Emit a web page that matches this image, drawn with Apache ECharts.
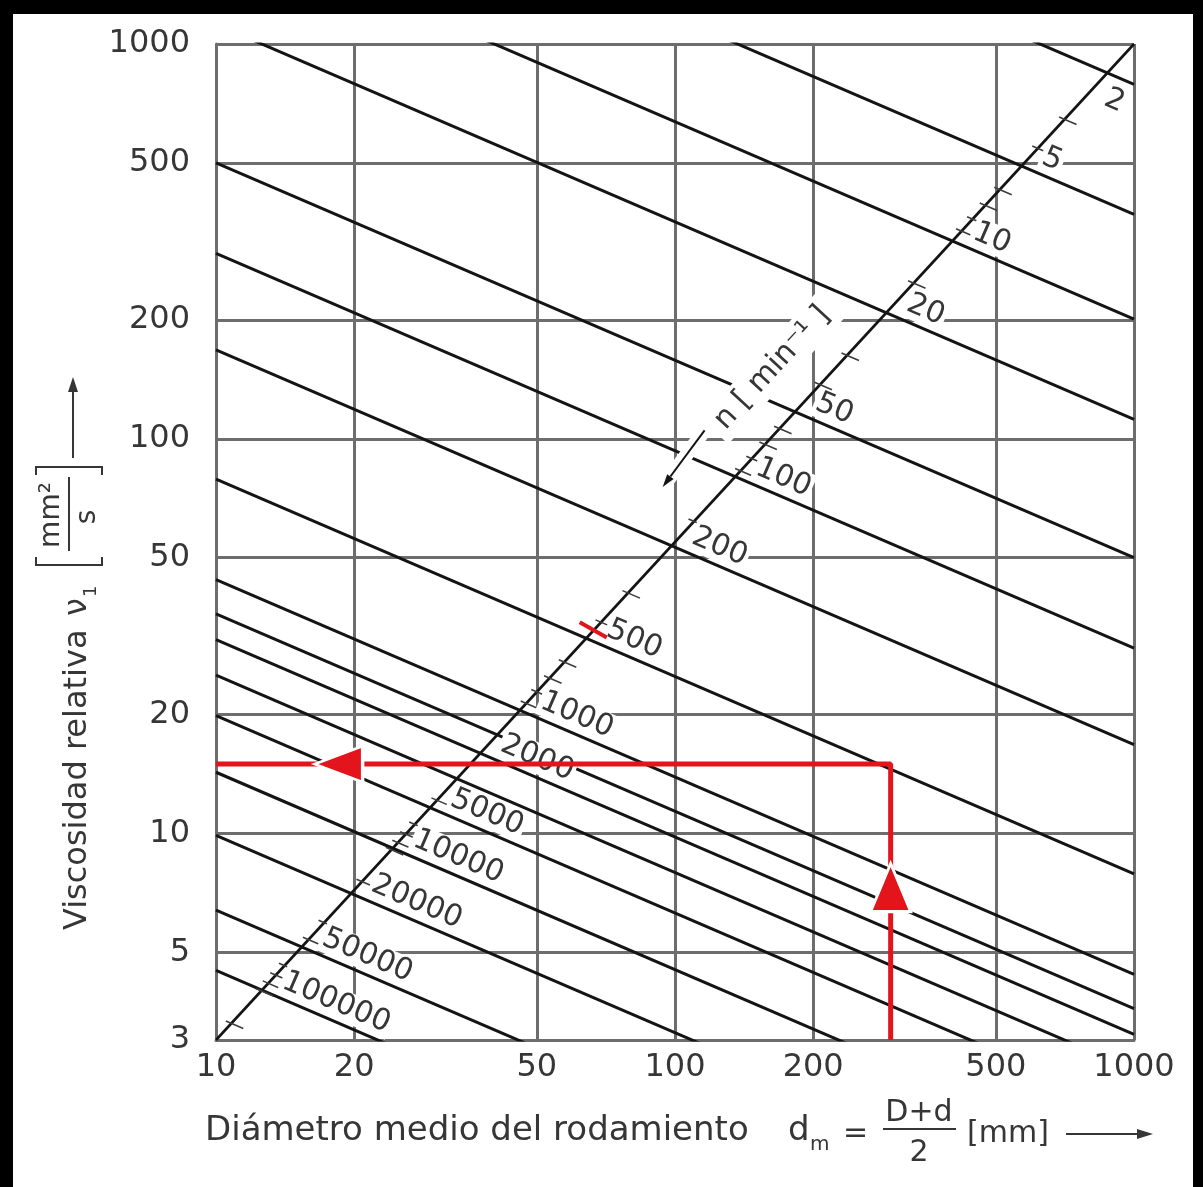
<!DOCTYPE html>
<html>
<head>
<meta charset="utf-8">
<script src="https://cdn.jsdelivr.net/npm/echarts@6.0.0/dist/echarts.min.js"></script>
<style>
  html, body { margin: 0; padding: 0; background: #fff; }
  #chart { width: 1203px; height: 1187px; }
</style>
</head>
<body>
<div id="chart"></div>
<script>
// operating speed n [min^-1] of each line of the nomogram
var speeds = [2, 5, 10, 20, 50, 100, 200, 500, 1000, 1500, 2000, 3000, 5000, 10000, 20000, 50000, 100000];
// speeds that carry a printed label on the n scale
var labelledSpeeds = [2, 5, 10, 20, 50, 100, 200, 500, 1000, 2000, 5000, 10000, 20000, 50000, 100000];
// nu1 [mm2/s] read where each line meets dm = 10 mm and dm = 1000 mm (extended past the frame)
var nuAt10 = [7900, 3700, 2010, 1122, 500, 295, 168, 79, 44, 36, 31, 25.2, 19.9, 14.3, 9.9, 6.4, 4.5];
var nuAt1000 = [790, 370, 201, 112, 50, 29.5, 16.8, 7.9, 4.4, 3.6, 3.1, 2.52, 1.99, 1.43, 0.99, 0.64, 0.45];
// minor ticks of the n scale, given as dm [mm] where they sit on the scale line
var scaleTicks = [706, 617, 510, 474, 445, 421, 331, 237, 207, 169, 157, 147, 139, 110, 79, 69,
                  57.4, 53.3, 50, 47.4, 30.3, 27.1, 25.9, 24.9, 24.1, 20.8, 17.2, 15.9,
                  14.1, 13.5, 13.0, 12.55, 10.8];
var xTicks = [10, 20, 50, 100, 200, 500, 1000];
var yTicks = [3, 5, 10, 20, 50, 100, 200, 500, 1000];
// worked example in red
var exampleDm = 295;
var exampleNu = 15;
var exampleMark = [[62, 34.3], [71, 31.4]];
var arrowLeftDm = 18.5;
var arrowUpNu = 7.3;

var gridColor = '#6d6d6d';
var lineColor = '#141414';
var textColor = '#363636';
var red = '#e3141b';
var FONT = '"DejaVu Sans", sans-serif';

var chart = echarts.init(document.getElementById('chart'));

// the n scale runs straight from (10, 3) to (1000, 1000)
var diagK = Math.log(1000 / 3) / Math.log(100);
function diagNu(dm) {
    return 3 * Math.pow(dm / 10, diagK);
}
function crossing(i) {
    var s = Math.log(nuAt10[i] / nuAt1000[i]) / Math.log(100);
    var dm = 10 * Math.pow(nuAt10[i] / 3, 1 / (diagK + s));
    return [dm, diagNu(dm)];
}
function lineDir(api, dm, nu) {
    var p = api.coord([dm, nu]);
    var q = api.coord([dm * 2, nu / Math.SQRT2]);
    var len = Math.hypot(q[0] - p[0], q[1] - p[1]);
    return { p: p, ux: (q[0] - p[0]) / len, uy: (q[1] - p[1]) / len };
}

function renderScaleTick(params, api) {
    var d = lineDir(api, api.value(0), api.value(1));
    return {
        type: 'line',
        shape: {
            x1: d.p[0] - 6 * d.ux, y1: d.p[1] - 6 * d.uy,
            x2: d.p[0] + 13 * d.ux, y2: d.p[1] + 13 * d.uy
        },
        style: { stroke: '#3c3c3c', lineWidth: 1.6 }
    };
}

function renderSpeedLabel(params, api) {
    var d = lineDir(api, api.value(0), api.value(1));
    var n = api.value(2);
    var below = n === 2; // squeezed against the frame, printed under its line
    return {
        type: 'text',
        x: d.p[0],
        y: d.p[1],
        rotation: -Math.atan2(d.uy, d.ux),
        style: {
            text: String(n),
            x: below ? 6 : 14,
            y: below ? 8 : -3,
            align: 'left',
            verticalAlign: below ? 'top' : 'bottom',
            fontSize: 30,
            fontFamily: FONT,
            fill: textColor,
            backgroundColor: '#fff',
            padding: [0, 2]
        }
    };
}

var series = [];
speeds.forEach(function (n, i) {
    series.push({
        name: 'n = ' + n,
        type: 'line',
        data: [[10, nuAt10[i]], [1000, nuAt1000[i]]],
        symbol: 'none',
        clip: true,
        silent: true,
        z: 3,
        lineStyle: { color: lineColor, width: 3 }
    });
});
series.push({
    name: 'n scale',
    type: 'line',
    data: [[10, 3], [1000, 1000]],
    symbol: 'none',
    silent: true,
    z: 3,
    lineStyle: { color: lineColor, width: 2.6 }
});
series.push({
    name: 'n ticks',
    type: 'custom',
    data: scaleTicks.map(function (dm) { return [dm, diagNu(dm)]; }),
    encode: { x: 0, y: 1 },
    renderItem: renderScaleTick,
    silent: true,
    z: 4
});
series.push({
    name: 'n labels',
    type: 'custom',
    data: labelledSpeeds.map(function (n) {
        var c = crossing(speeds.indexOf(n));
        return [c[0], c[1], n];
    }),
    encode: { x: 0, y: 1 },
    renderItem: renderSpeedLabel,
    silent: true,
    z: 5
});
series.push({
    name: 'ejemplo',
    type: 'line',
    data: [[10, exampleNu], [exampleDm, exampleNu], [exampleDm, 3]],
    symbol: 'none',
    silent: true,
    z: 6,
    lineStyle: { color: red, width: 5 }
});
series.push({
    name: 'ejemplo n',
    type: 'line',
    data: exampleMark,
    symbol: 'none',
    silent: true,
    z: 6,
    lineStyle: { color: red, width: 4 }
});
series.push({
    name: 'flechas',
    type: 'scatter',
    symbol: 'triangle',
    data: [
        { value: [arrowLeftDm, exampleNu], symbolRotate: 90, symbolSize: [36, 48] },
        { value: [exampleDm, arrowUpNu], symbolRotate: 0, symbolSize: [40, 48] }
    ],
    itemStyle: { color: red, opacity: 1, borderColor: '#fff', borderWidth: 3 },
    silent: true,
    z: 7
});

function logAxis(min, max, ticks, margin) {
    return {
        type: 'log',
        logBase: 10,
        min: min,
        max: max,
        axisLine: { show: true, lineStyle: { color: gridColor, width: 3 } },
        axisTick: { show: false, customValues: ticks },
        axisLabel: {
            customValues: ticks,
            formatter: function (v) { return String(Math.round(v)); },
            fontSize: 32,
            fontFamily: FONT,
            color: textColor,
            margin: margin
        },
        splitLine: { show: true, lineStyle: { color: gridColor, width: 3 } }
    };
}

var option = {
    animation: false,
    backgroundColor: '#fff',
    grid: { left: 216, right: 69, top: 44, bottom: 147, containLabel: false, outerBoundsMode: 'none' },
    xAxis: logAxis(10, 1000, xTicks, 12),
    yAxis: logAxis(3, 1000, yTicks, 26),
    series: series
};
chart.setOption(option);

// annotations placed from data coordinates
var captionAt = [163, 151];
var captionArrow = [[116, 105], [94, 75.5]];
function px(v) { return chart.convertToPixel({ gridIndex: 0 }, v); }
var d0 = px([10, 3]);
var d1 = px([1000, 1000]);
var diagAngle = Math.atan2(d0[1] - d1[1], d1[0] - d0[0]);
var cap = px(captionAt);
var a0 = px(captionArrow[0]);
var a1 = px(captionArrow[1]);
var al = Math.hypot(a1[0] - a0[0], a1[1] - a0[1]);
var aux = (a1[0] - a0[0]) / al, auy = (a1[1] - a0[1]) / al;
var ab = [a1[0] - 13 * aux, a1[1] - 13 * auy];

function txt(x, y, text, size, extra) {
    var st = { text: text, fontSize: size, fontFamily: FONT, fill: textColor, verticalAlign: 'middle' };
    for (var k in extra) st[k] = extra[k];
    return { type: 'text', x: x, y: y, style: st };
}

var graphic = [
    // black frame of the picture
    { type: 'rect', shape: { x: 0, y: 0, width: 1203, height: 14 }, style: { fill: '#000' } },
    { type: 'rect', shape: { x: 0, y: 0, width: 13, height: 1187 }, style: { fill: '#000' } },
    { type: 'rect', shape: { x: 1193, y: 0, width: 10, height: 1187 }, style: { fill: '#000' } },

    // x axis title
    txt(205, 1131, 'Diámetro medio del rodamiento', 34),
    txt(788, 1131, 'd', 34),
    txt(810, 1145, 'm', 20),
    txt(843, 1134, '=', 30),
    txt(919, 1113, 'D+d', 30, { align: 'center' }),
    { type: 'line', shape: { x1: 883, y1: 1129, x2: 956, y2: 1129 }, style: { stroke: textColor, lineWidth: 2 } },
    txt(919, 1153, '2', 30, { align: 'center' }),
    txt(967, 1134, '[mm]', 30),
    { type: 'line', shape: { x1: 1066, y1: 1134, x2: 1140, y2: 1134 }, style: { stroke: textColor, lineWidth: 2 } },
    { type: 'polygon', shape: { points: [[1153, 1134], [1137, 1129], [1137, 1139]] }, style: { fill: textColor } },

    // y axis title, reading upwards
    {
        type: 'group',
        x: 78,
        y: 930,
        rotation: Math.PI / 2,
        children: [
            txt(0, 0, 'Viscosidad relativa', 32),
            txt(314, 0, 'ν', 32),
            txt(333, 13, '1', 18),
            { type: 'polyline', shape: { points: [[373, -42], [365, -42], [365, 24], [373, 24]] }, style: { stroke: textColor, lineWidth: 2, fill: null } },
            txt(415, -26, 'mm²', 28, { align: 'center' }),
            { type: 'line', shape: { x1: 379, y1: -9, x2: 453, y2: -9 }, style: { stroke: textColor, lineWidth: 2 } },
            txt(413, 10, 's', 28, { align: 'center' }),
            { type: 'polyline', shape: { points: [[455, -42], [463, -42], [463, 24], [455, 24]] }, style: { stroke: textColor, lineWidth: 2, fill: null } },
            { type: 'line', shape: { x1: 472, y1: -5, x2: 540, y2: -5 }, style: { stroke: textColor, lineWidth: 2 } },
            { type: 'polygon', shape: { points: [[553, -5], [538, -10], [538, 0]] }, style: { fill: textColor } }
        ]
    },

    // n [min-1] caption along the scale
    { type: 'line', z: 100, shape: { x1: a0[0], y1: a0[1], x2: a1[0], y2: a1[1] }, style: { stroke: '#fff', lineWidth: 14 } },
    { type: 'line', z: 101, shape: { x1: a0[0], y1: a0[1], x2: ab[0], y2: ab[1] }, style: { stroke: lineColor, lineWidth: 2 } },
    {
        type: 'polygon', z: 101,
        shape: { points: [a1, [ab[0] - 4 * auy, ab[1] + 4 * aux], [ab[0] + 4 * auy, ab[1] - 4 * aux]] },
        style: { fill: lineColor }
    },
    {
        type: 'text', z: 101,
        x: cap[0], y: cap[1],
        rotation: diagAngle,
        style: {
            text: 'n [ min⁻¹ ]', fontSize: 30, fontFamily: FONT, fill: textColor,
            align: 'center', verticalAlign: 'middle', backgroundColor: '#fff', padding: [4, 8]
        }
    }
];
chart.setOption({ graphic: graphic });
</script>
</body>
</html>
